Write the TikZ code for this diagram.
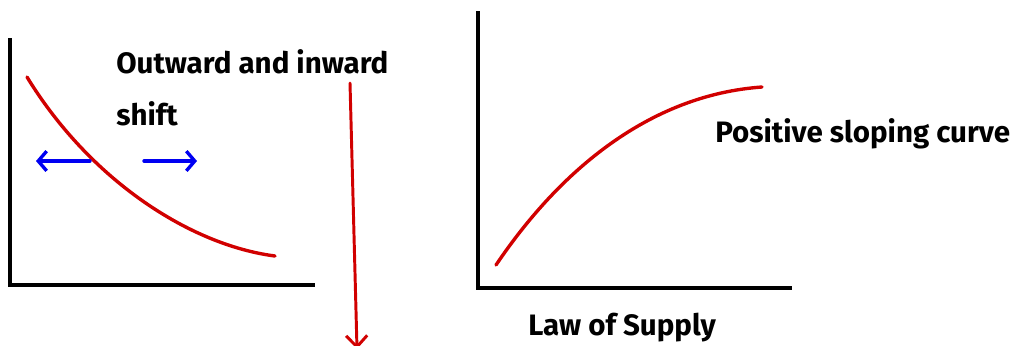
\documentclass[tikz,border=0pt]{standalone}
\usepackage{fontspec}
\setmainfont{Fira Sans}
\usetikzlibrary{arrows.meta,positioning}

\begin{document}
\begin{tikzpicture}[x=0.025cm, y=-0.025cm,
    axis/.style={line width=2.6pt, black, line cap=rect},
    curve/.style={line width=2.4pt, red!82!black, line cap=round},
    shiftarrow/.style={-{Straight Barb[length=6pt,width=14pt]}, line width=2.4pt, blue!95!black, line cap=round},
    downarrow/.style={-{Straight Barb[length=8pt,width=15pt]}, line width=2.1pt, red!82!black, line cap=round},
    lbl/.style={font=\fontsize{21}{25}\selectfont\bfseries, inner sep=0pt, anchor=base west}]
    \useasboundingbox (0,0) rectangle (1017,345);
    \coordinate (o1) at (10,285);
    \coordinate (y1) at (10,40);
    \coordinate (x1) at (313,285);
    \draw[axis] (y1) -- (o1) -- (x1);
    \draw[curve] (27,77) .. controls (90,180) and (190,245) .. (275,256);
    \coordinate (l0) at (90,161);
    \coordinate (l1) at (36,161);
    \coordinate (r0) at (144,161);
    \coordinate (r1) at (197,161);
    \draw[shiftarrow] (l0) -- (l1);
    \draw[shiftarrow] (r0) -- (r1);
    \node[lbl] (out) at (116,73) {Outward and inward};
    \node[lbl] (shft) at (116,125) {shift};
    \coordinate (d0) at (350,83);
    \coordinate (d1) at (357,349);
    \draw[downarrow] (d0) -- (d1);
    \coordinate (o2) at (478,288);
    \coordinate (y2) at (478,13);
    \coordinate (x2) at (790,288);
    \draw[axis] (y2) -- (o2) -- (x2);
    \draw[curve] (496,265) .. controls (560,170) and (650,95) .. (762,87);
    \node[lbl] (pos) at (715,142) {Positive sloping curve};
    \node[lbl] (law) at (528,335) {Law of Supply};
\end{tikzpicture}
\end{document}
